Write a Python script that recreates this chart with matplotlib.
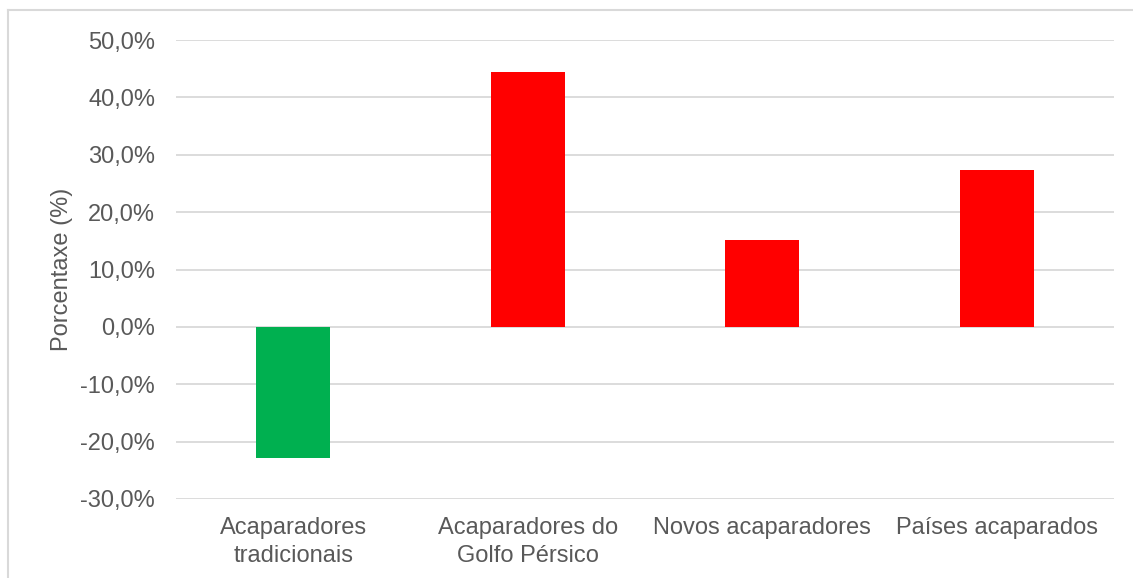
import numpy as np
import matplotlib
matplotlib.use("Agg")
import matplotlib.pyplot as plt
from matplotlib.lines import Line2D

categorias = ["Acaparadores\ntradicionais", "Acaparadores do\nGolfo Pérsico",
              "Novos acaparadores", "Países acaparados"]
valores = [-22.8, 44.4, 15.1, 27.4]
cores = ["#00B050", "#FF0000", "#FF0000", "#FF0000"]
yticks = np.arange(-30, 51, 10)

plt.rcParams['font.family'] = ['Liberation Sans', 'DejaVu Sans']
texto = "#595959"

fig = plt.figure(figsize=(11.33, 5.78), dpi=100)
ax = fig.add_axes([176 / 1133, 1 - 499 / 578, (1114 - 176) / 1133, (499 - 40) / 578])

x = np.arange(len(categorias))
ax.bar(x, valores, width=0.316, color=cores, zorder=3)

ax.set_ylim(-30, 50)
ax.set_xlim(-0.5, len(categorias) - 0.5)
ax.set_yticks(yticks)
ax.set_yticklabels([f"{v:.1f}%".replace(".", ",") for v in yticks])
ax.set_xticks(x)
ax.set_xticklabels(categorias, linespacing=1.35)
ax.grid(axis="y", color="#D9D9D9", linewidth=1.3, zorder=0)
for s in ax.spines.values():
    s.set_visible(False)
ax.tick_params(length=0, labelsize=17, colors=texto)
ax.tick_params(axis="y", pad=15)
ax.tick_params(axis="x", pad=13)
ax.set_ylabel("Porcentaxe (%)", fontsize=17, color=texto, labelpad=5)

# borde do gráfico (arriba e á esquerda)
fig.add_artist(Line2D([8 / 1133, 1], [1 - 9.5 / 578, 1 - 9.5 / 578], color="#D9D9D9", linewidth=1.5))
fig.add_artist(Line2D([8 / 1133, 8 / 1133], [0, 1 - 9.5 / 578], color="#D9D9D9", linewidth=1.5))

fig.savefig("out.png", dpi=100)
